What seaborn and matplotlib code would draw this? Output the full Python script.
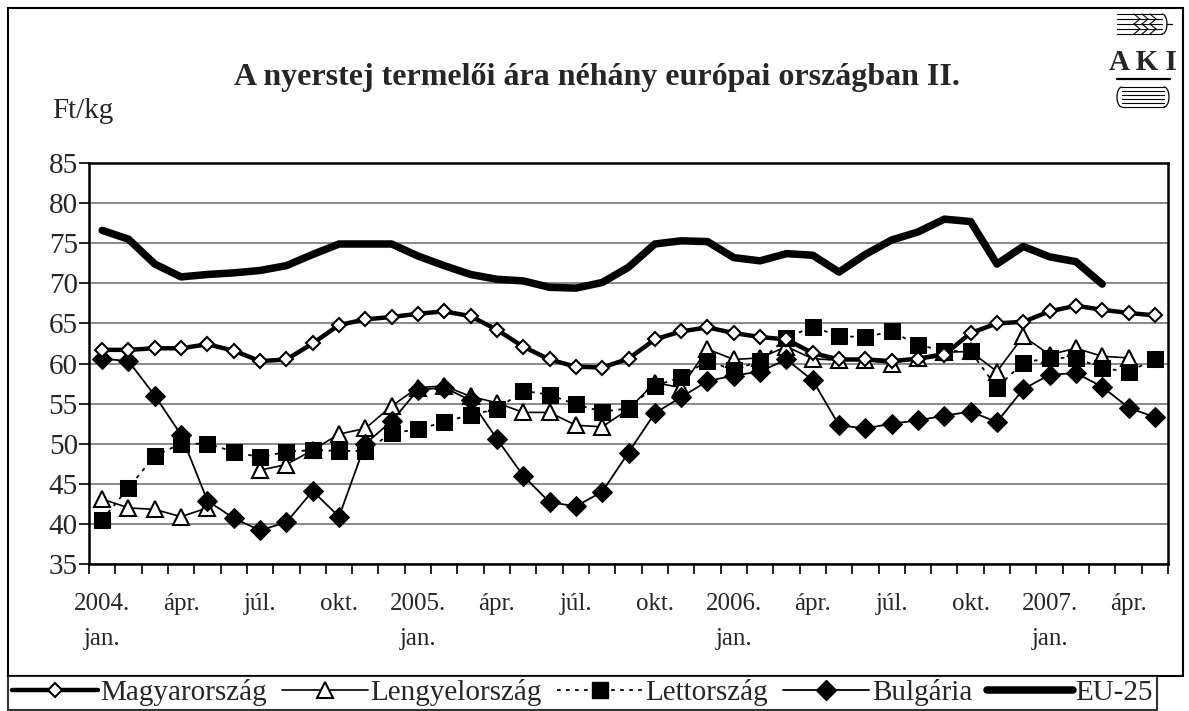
import numpy as np
import pandas as pd
import matplotlib.pyplot as plt
import seaborn as sns
from matplotlib.lines import Line2D
from matplotlib.patches import Rectangle

# Monthly producer price of raw milk, Ft/kg, 2004 jan .. 2007 may
months = list(range(41))
tick_pos = [0, 3, 6, 9, 12, 15, 18, 21, 24, 27, 30, 33, 36, 39]
tick_labels = ['2004.\njan.', 'ápr.', 'júl.', 'okt.',
               '2005.\njan.', 'ápr.', 'júl.', 'okt.',
               '2006.\njan.', 'ápr.', 'júl.', 'okt.',
               '2007.\njan.', 'ápr.']

magyar = [61.7, 61.7, 61.9, 61.9, 62.4, 61.6, 60.3, 60.5, 62.5, 64.8,
          65.5, 65.8, 66.2, 66.5, 65.9, 64.2, 62.1, 60.5, 59.6, 59.5,
          60.6, 63.0, 64.0, 64.5, 63.8, 63.3, 63.0, 61.3, 60.5, 60.5,
          60.3, 60.6, 61.1, 63.8, 65.0, 65.2, 66.5, 67.2, 66.7, 66.3, 66.0]
lengyel = [43.1, 42.0, 41.8, 40.9, 42.0, np.nan, 46.7, 47.4, 49.2, 51.2,
           51.9, 54.7, 57.0, 57.2, 55.9, 55.1, 53.9, 53.9, 52.3, 52.1,
           54.3, 57.6, 57.0, 61.8, 60.5, 60.7, 62.1, 60.6, 60.4, 60.4,
           60.0, 60.7, 61.4, 61.5, 59.0, 63.4, 61.1, 61.9, 60.9, 60.7, np.nan]
lett = [40.5, 44.5, 48.5, 50.0, 50.0, 49.0, 48.3, 49.0, 49.2, 49.1,
        49.1, 51.3, 51.8, 52.7, 53.6, 54.3, 56.6, 56.1, 54.9, 54.0,
        54.4, 57.2, 58.3, 60.3, 59.2, 60.3, 63.2, 64.6, 63.4, 63.3,
        64.0, 62.3, 61.6, 61.5, 57.0, 60.1, 60.7, 60.7, 59.4, 59.0, 60.5]
bulg = [60.6, 60.3, 56.0, 51.1, 42.9, 40.7, 39.2, 40.2, 44.1, 40.9,
        50.0, 52.8, 56.7, 57.0, 55.4, 50.6, 46.0, 42.7, 42.2, 44.0,
        48.9, 53.8, 55.8, 57.8, 58.5, 59.0, 60.5, 57.9, 52.3, 51.9,
        52.5, 52.9, 53.5, 54.0, 52.7, 56.8, 58.6, 58.8, 57.1, 54.5, 53.3]
eu25 = [76.6, 75.5, 72.4, 70.8, 71.1, 71.3, 71.6, 72.2, 73.6, 74.9,
        74.9, 74.9, 73.4, 72.2, 71.1, 70.5, 70.3, 69.5, 69.4, 70.1,
        72.0, 74.9, 75.3, 75.2, 73.2, 72.8, 73.7, 73.5, 71.4, 73.6,
        75.4, 76.4, 78.0, 77.7, 72.4, 74.6, 73.3, 72.7, 69.9, np.nan, np.nan]

W, H = 1189, 711

def fx(x):
    return x / W

def fy(y):
    return 1 - y / H

sns.set_style("white")
plt.rcParams['font.family'] = ['Liberation Serif', 'DejaVu Serif']

fig = plt.figure(figsize=(W / 100, H / 100), dpi=100)
ax = fig.add_axes([fx(89), fy(564), fx(1168 - 89), (564 - 163) / H])

df = pd.DataFrame({'honap': months, 'Magyarország': magyar, 'Lengyelország': lengyel,
                   'Lettország': lett, 'Bulgária': bulg, 'EU-25': eu25})
# keep gaps where a value is missing
df['seg_pl'] = df['Lengyelország'].isna().cumsum()

st_hu = dict(color='black', lw=3.2, marker='D', markersize=7.5, markerfacecolor='white',
             markeredgecolor='black', markeredgewidth=1.5)
st_pl = dict(color='black', lw=1.2, marker='^', markersize=12, markerfacecolor='white',
             markeredgecolor='black', markeredgewidth=1.5)
st_lv = dict(color='black', lw=1.3, linestyle=(0, (2, 3)), marker='s', markersize=11,
             markerfacecolor='black', markeredgecolor='black')
st_bg = dict(color='black', lw=1.3, marker='D', markersize=10, markerfacecolor='black',
             markeredgecolor='black')
st_eu = dict(color='black', lw=5.4)

sns.lineplot(data=df, x='honap', y='EU-25', ax=ax, zorder=3, **st_eu)
sns.lineplot(data=df, x='honap', y='Magyarország', ax=ax, zorder=5, **st_hu)
sns.lineplot(data=df, x='honap', y='Lengyelország', units='seg_pl', estimator=None, ax=ax,
             zorder=4, **st_pl)
sns.lineplot(data=df, x='honap', y='Lettország', ax=ax, zorder=4, **st_lv)
sns.lineplot(data=df, x='honap', y='Bulgária', ax=ax, zorder=4, **st_bg)

ax.set_xlim(-0.5, 40.5)
ax.set_ylim(35, 85)
ax.set_yticks(range(35, 90, 5))
ax.yaxis.grid(True, color='#808080', lw=1.3)
ax.set_axisbelow(True)
ax.set_xlabel('')
ax.set_ylabel('')
for s in ax.spines.values():
    s.set_color('black')
    s.set_linewidth(1.8)

ax.set_xticks(tick_pos)
ax.set_xticklabels(tick_labels, fontsize=18, linespacing=1.75, va='top')
ax.set_xticks(np.arange(-0.5, 41, 1), minor=True)
ax.tick_params(axis='x', which='major', length=0, pad=21)
ax.tick_params(axis='x', which='minor', length=7, width=1.2, color='black', direction='out')
ax.tick_params(axis='y', length=7, width=1.2, color='black', direction='out', labelsize=21, pad=1)
ax.tick_params(bottom=True, left=True, which='both')

fig.text(fx(597), fy(77), 'A nyerstej termelői ára néhány európai országban II.',
         ha='center', va='center', fontsize=23, fontweight='bold')
fig.text(fx(52), fy(111), 'Ft/kg', ha='left', va='center', fontsize=21)

# outer frame of the chart
fig.add_artist(Rectangle((fx(8), fy(676)), fx(1183 - 8), (676 - 8) / H,
                         transform=fig.transFigure, fill=False, ec='black', lw=1.5))

# legend
handles = [Line2D([], [], **st_hu), Line2D([], [], **st_pl), Line2D([], [], **st_lv),
           Line2D([], [], **st_bg), Line2D([], [], **st_eu)]
names = ['Magyarország', 'Lengyelország', 'Lettország', 'Bulgária', 'EU-25']
leg = fig.legend(handles, names, loc='upper left', bbox_to_anchor=(fx(8), fy(676)),
                 ncol=5, frameon=True, fancybox=False, fontsize=21, handlelength=2.95,
                 handletextpad=0.1, columnspacing=0.5, borderpad=0.12, borderaxespad=0)
leg.get_frame().set_edgecolor('black')
leg.get_frame().set_linewidth(1.5)

# AKI logo (approximate)
lg = fig.add_axes([fx(1113), fy(112), fx(1174 - 1113), (112 - 8) / H])
lg.set_xlim(1113, 1174)
lg.set_ylim(112, 8)
lg.axis('off')
for yy in [14, 19, 24, 29, 34]:
    lg.plot([1117, 1162], [yy, yy], color='black', lw=0.8)
for xx in [1134, 1142, 1150]:
    lg.plot([xx, xx + 6, xx], [14, 19, 24], color='black', lw=0.8)
    lg.plot([xx, xx + 6, xx], [24, 29, 34], color='black', lw=0.8)
th = np.linspace(-np.pi / 2, np.pi / 2, 20)
lg.plot(1162 + 5 * np.cos(th), 24 + 10 * np.sin(th), color='black', lw=0.9)
lg.plot([1167, 1172], [24, 24], color='black', lw=0.9)
lg.text(1143, 63, 'A K I', ha='center', va='center', fontsize=21, fontweight='bold')
lg.plot([1117, 1170], [79, 79], color='black', lw=1.6)
for yy in [87, 91, 95, 99, 103, 107]:
    lg.plot([1122, 1164], [yy, yy], color='black', lw=0.8)
lg.plot(1122 - 5 * np.cos(th), 97 + 10 * np.sin(th), color='black', lw=0.9)
lg.plot(1164 + 5 * np.cos(th), 97 + 10 * np.sin(th), color='black', lw=0.9)

fig.savefig('out.png', dpi=100)
